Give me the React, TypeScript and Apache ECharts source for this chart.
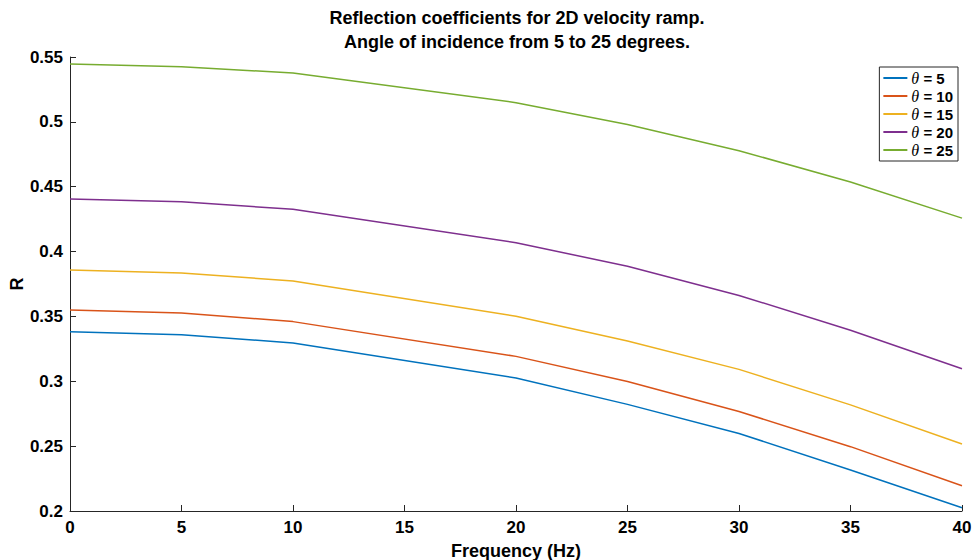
import React, { useEffect, useRef } from "react";
import * as echarts from "echarts";

const frequencies = [0, 5, 10, 20, 25, 30, 35, 40];
const theta5 = [0.3382, 0.3359, 0.3296, 0.3025, 0.2822, 0.2598, 0.2316, 0.2025];
const theta10 = [0.3550, 0.3527, 0.3460, 0.3192, 0.2998, 0.2767, 0.2496, 0.2195];
const theta15 = [0.3858, 0.3835, 0.3773, 0.3502, 0.3311, 0.3092, 0.2818, 0.2517];
const theta20 = [0.4406, 0.4384, 0.4326, 0.4068, 0.3887, 0.3662, 0.3394, 0.3097];
const theta25 = [0.5446, 0.5425, 0.5377, 0.5148, 0.4980, 0.4778, 0.4536, 0.4258];
const seriesNames = ["θ = 5", "θ = 10", "θ = 15", "θ = 20", "θ = 25"];
const seriesData = [theta5, theta10, theta15, theta20, theta25];
const colors = ["#0072BD", "#D95319", "#EDB120", "#7E2F8E", "#77AC30"];
const yTicks = [0.2, 0.25, 0.3, 0.35, 0.4, 0.45, 0.5, 0.55];

const FONT = "'Liberation Sans', Arial, Helvetica, sans-serif";

export default function App() {
  const ref = useRef<HTMLDivElement>(null);
  useEffect(() => {
    document.body.style.margin = "0";
    const chart = echarts.init(ref.current!, null, { renderer: "svg" });
    chart.setOption({
      animation: false,
      backgroundColor: "#ffffff",
      textStyle: { fontFamily: FONT },
      title: {
        text: "Reflection coefficients for 2D velocity ramp.\nAngle of incidence from 5 to 25 degrees.",
        left: 517,
        top: 6,
        textAlign: "center",
        padding: 0,
        textStyle: {
          fontFamily: FONT,
          fontWeight: "bold",
          fontSize: 18,
          lineHeight: 24,
          color: "#000000",
        },
      },
      legend: {
        orient: "vertical",
        right: 19,
        top: 67,
        backgroundColor: "#ffffff",
        borderColor: "#262626",
        borderWidth: 1,
        borderRadius: 0,
        padding: [3, 5, 3, 4],
        itemGap: 2,
        itemWidth: 24,
        itemHeight: 2,
        icon: "rect",
        data: seriesNames,
        formatter: (name: string) => {
          const parts = name.split(" = ");
          return "{i|θ}{b| = " + parts[1] + "}";
        },
        textStyle: {
          fontFamily: FONT,
          fontSize: 15,
          color: "#000000",
          padding: [0, 0, 0, -1],
          rich: {
            i: { fontFamily: "'Liberation Serif', 'DejaVu Serif', serif", fontStyle: "italic", fontSize: 16, lineHeight: 17, color: "#000" },
            b: { fontFamily: FONT, fontWeight: "bold", fontSize: 15, lineHeight: 17, color: "#000" },
          },
        },
      },
      grid: { left: 70, right: 15, top: 57, bottom: 49, containLabel: false, outerBoundsMode: "none" },
      xAxis: {
        type: "value",
        min: 0,
        max: 40,
        interval: 5,
        name: "Frequency (Hz)",
        nameLocation: "middle",
        nameGap: 31,
        nameMoveOverlap: false,
        nameTextStyle: { fontFamily: FONT, fontWeight: "bold", fontSize: 18, color: "#000" },
        axisLine: { show: true, onZero: false, lineStyle: { color: "#262626", width: 1 } },
        axisTick: { show: true, inside: true, length: 6, lineStyle: { color: "#262626" } },
        axisLabel: { margin: 8, fontFamily: FONT, fontWeight: "bold", fontSize: 17, color: "#000" },
        splitLine: { show: false },
      },
      yAxis: {
        type: "value",
        min: 0.2,
        max: 0.55,
        interval: 0.05,
        name: "R",
        nameLocation: "middle",
        nameGap: 44,
        nameMoveOverlap: false,
        nameRotate: 90,
        nameTextStyle: { fontFamily: FONT, fontWeight: "bold", fontSize: 18, color: "#000" },
        axisLine: { show: true, onZero: false, lineStyle: { color: "#262626", width: 1 } },
        axisTick: { show: true, inside: true, length: 6, lineStyle: { color: "#262626" } },
        axisLabel: {
          margin: 7,
          fontFamily: FONT,
          fontWeight: "bold",
          fontSize: 17,
          color: "#000",
          formatter: (v: number) => {
            const t = yTicks.find((y) => Math.abs(y - v) < 1e-9);
            return t !== undefined ? String(t) : String(+v.toFixed(2));
          },
        },
        splitLine: { show: false },
      },
      series: seriesNames.map((name, i) => ({
        name,
        type: "line",
        data: frequencies.map((f, j) => [f, seriesData[i][j]]),
        showSymbol: false,
        symbol: "none",
        lineStyle: { color: colors[i], width: 1.5 },
        itemStyle: { color: colors[i] },
      })),
    });
    return () => chart.dispose();
  }, []);
  return <div ref={ref} style={{ width: 977, height: 560 }} />;
}
